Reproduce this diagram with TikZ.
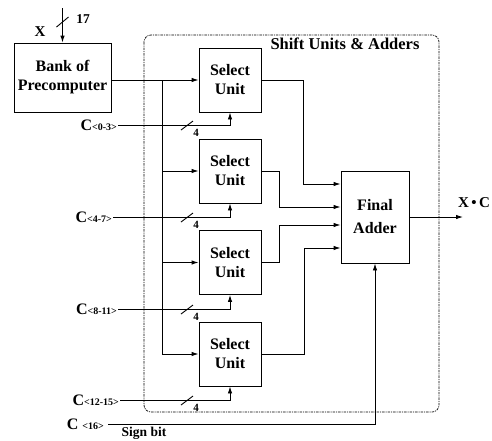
\documentclass[tikz,border=0pt]{standalone}
\usepackage{fontspec}
\setmainfont{Liberation Serif}
\usetikzlibrary{arrows.meta}
\tikzset{
  block/.style={draw, line width=0.9pt, align=center, inner sep=0pt,
    font=\bfseries\fontsize{16}{19}\selectfont},
  unit/.style={block, minimum width=62, minimum height=64},
  sig/.style={line width=0.9pt},
  arr/.style={sig, -{Latex[length=7pt,width=4.5pt]}},
  region/.style={line width=0.7pt, dash pattern=on 2.5pt off 1pt on 1pt off 1pt, rounded corners=7},
  lbl/.style={inner sep=1pt, font=\bfseries\fontsize{15}{16}\selectfont},
  clab/.style={lbl, anchor=east, font=\bfseries\fontsize{16}{17}\selectfont},
  buswidth/.style={inner sep=0pt, font=\bfseries\fontsize{11}{12}\selectfont},
}
\newcommand{\coeff}[1]{C{\fontsize{10}{11}\selectfont<#1>}}
\begin{document}
\begin{tikzpicture}[x=1pt,y=-1pt]
\useasboundingbox (0,0) rectangle (492,440);
% blocks
\node[block, minimum width=97, minimum height=69] (bank) at (62.5,77.5) {Bank of\\Precomputer};
\node[unit] (su1) at (230,80) {Select\\Unit};
\node[unit] (su2) at (230,171) {Select\\Unit};
\node[unit] (su3) at (230,262.5) {Select\\Unit};
\node[unit] (su4) at (230,354) {Select\\Unit};
\node[block, minimum width=68, minimum height=92, font=\bfseries\fontsize{16}{23}\selectfont] (fa) at (375,217) {Final\\Adder};
% shift units and adders region
\draw[region] (144,35) rectangle (439,412);
\node[lbl, font=\bfseries\fontsize{16.5}{17}\selectfont] (title) at (345,44) {Shift Units \& Adders};
% input X
\coordinate (xin) at (bank.north |- 0,8);
\draw[arr] (xin) -- (bank.north);
\draw[sig] (56.5,27) -- (68.5,17);
\node[lbl, font=\bfseries\fontsize{13.5}{14}\selectfont] (w17) at (83,19) {17};
\node[lbl] (xlab) at (40,32) {X};
% bus to select units
\coordinate (bus1) at (162,80);
\coordinate (bus4) at (162,354);
\draw[arr] (bank.east |- su1.west) -- (su1.west);
\draw[sig] (bus1) -- (bus4);
\foreach \i in {2,3,4}
  \draw[arr] (bus1 |- su\i.west) -- (su\i.west);
% coefficient inputs
\foreach \i/\x/\y/\b in {1/118/125/0-3, 2/113/217/4-7, 3/118/309/8-11, 4/120/400/12-15}{
  \node[clab] (c\i) at (\x,\y) {\coeff{\b}};
  \draw[arr] (c\i.east) -| (su\i.south);
  \draw[sig] (181,\y+5) -- (193,\y-4);
  \node[buswidth] (w\i) at (196,\y+8) {4};
}
% sign bit
\node[clab] (c5) at (105,424) {C \fontsize{10}{11}\selectfont<16>};
\draw[arr] ([xshift=3pt]c5.east) -| (fa.south);
\node[lbl, font=\bfseries\fontsize{13.5}{14}\selectfont] (sign) at (144,433) {Sign bit};
% select units to final adder
\draw[arr] (su1.east) -| (303,184) -- (fa.west |- 0,184);
\draw[arr] (su2.east) -| (279,207) -- (fa.west |- 0,207);
\draw[arr] (su3.east) -| (279,225) -- (fa.west |- 0,225);
\draw[arr] (su4.east) -| (304,248) -- (fa.west |- 0,248);
% output
\coordinate (out) at (463,217);
\draw[arr] (fa.east) -- (out);
\node[lbl] (prod) at (474,203) {X\,\textbullet\,C};
\end{tikzpicture}
\end{document}
